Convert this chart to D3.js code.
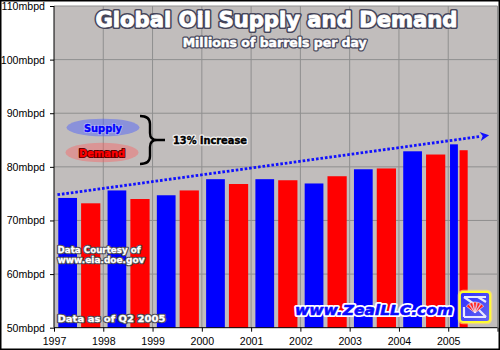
<!DOCTYPE html>
<html>
<head>
<meta charset="utf-8">
<script src="https://cdn.jsdelivr.net/npm/d3@7"></script>
<style>
  html, body { margin: 0; padding: 0; background: #fff; }
  svg { display: block; }
</style>
</head>
<body>
<svg id="chart" width="500" height="350"></svg>
<script>
// Annual averages, millions of barrels per day
const years = [1997, 1998, 1999, 2000, 2001, 2002, 2003, 2004, 2005];
const supply = [74.2, 75.6, 74.7, 77.7, 77.7, 76.9, 79.55, 82.9, 84.2];
const demand = [73.2, 74.0, 75.6, 76.8, 77.5, 78.25, 79.7, 82.3, 83.1];
// Portion of each year covered by the data (2005 runs through Q2)
const coverage = [1, 1, 1, 1, 1, 1, 1, 1, 0.42];
// Supply trend, start and end
const trendYears = [1997.07, 2005.83];
const trendValues = [74.8, 85.9];
const yTicks = [50, 60, 70, 80, 90, 100, 110];
const xTicks = [1997, 1998, 1999, 2000, 2001, 2002, 2003, 2004, 2005, 2006];
const xLabels = ["1997", "1998", "1999", "2000", "2001", "2002", "2003", "2004", "2005", ""];

const svg = d3.select("#chart");
const W = 500, H = 350;
const pLeft = 54, pRight = 497.5, pTop = 6, pBottom = 327.7;

const x = d3.scaleLinear().domain([1997, 2006]).range([pLeft, pRight]);
const y = d3.scaleLinear().domain([50, 110]).range([pBottom, pTop]);

// Plot background
svg.append("rect").attr("x", pLeft).attr("y", pTop)
  .attr("width", pRight - pLeft).attr("height", pBottom - pTop)
  .attr("fill", "#c1bdbc");

// Grid
const grid = svg.append("g").attr("stroke", "#8f8f8f").attr("stroke-width", 1);
grid.selectAll("line.h").data(yTicks.slice(1)).join("line")
  .attr("x1", pLeft).attr("x2", pRight)
  .attr("y1", d => y(d)).attr("y2", d => y(d));
grid.selectAll("line.v").data(xTicks.slice(1)).join("line")
  .attr("y1", pTop).attr("y2", pBottom)
  .attr("x1", d => x(d)).attr("x2", d => x(d));

// Bars: supply in the first half of each period, demand in the second
const rows = years.map((yr, i) => ({ yr, s: supply[i], d: demand[i], c: coverage[i] }));
const bars = svg.append("g");
bars.selectAll("rect.s").data(rows).join("rect")
  .attr("x", r => x(r.yr + 0.087 * r.c))
  .attr("width", r => x(r.yr + 0.467 * r.c) - x(r.yr + 0.087 * r.c))
  .attr("y", r => y(r.s)).attr("height", r => y(50) - y(r.s))
  .attr("fill", "#0000ff");
bars.selectAll("rect.d").data(rows).join("rect")
  .attr("x", r => x(r.yr + 0.55 * r.c))
  .attr("width", r => x(r.yr + 0.94 * r.c) - x(r.yr + 0.55 * r.c))
  .attr("y", r => y(r.d)).attr("height", r => y(50) - y(r.d))
  .attr("fill", "#ff0000");

// Axes
const yAxis = d3.axisLeft(y).tickValues(yTicks).tickSize(4).tickFormat(d => d + "mbpd");
const gy = svg.append("g").attr("transform", `translate(${pLeft},0)`).call(yAxis);
const xAxis = d3.axisBottom(x).tickValues(xTicks).tickSize(4).tickFormat((d, i) => xLabels[i]);
const gx = svg.append("g").attr("transform", `translate(0,${pBottom})`).call(xAxis);
[gy, gx].forEach(g => {
  g.select(".domain").remove();
  g.selectAll(".tick line").attr("stroke", "#000");
  g.selectAll("text").attr("fill", "#000")
    .style("font-family", "'Liberation Sans', Arial, sans-serif").style("font-size", "10.6px");
});
gy.selectAll(".tick text").attr("x", -9);
gx.selectAll(".tick text").attr("y", 10);
svg.append("line").attr("x1", pLeft).attr("x2", pLeft).attr("y1", pTop).attr("y2", pBottom)
  .attr("stroke", "#000");
svg.append("line").attr("x1", pLeft).attr("x2", pRight).attr("y1", pBottom).attr("y2", pBottom)
  .attr("stroke", "#000");

// Supply trend arrow
const tx0 = x(trendYears[0]), ty0 = y(trendValues[0]);
const tx1 = x(trendYears[1]), ty1 = y(trendValues[1]);
const ang = Math.atan2(ty1 - ty0, tx1 - tx0);
const headLen = 9, headW = 4.5;
const bx = tx1 - headLen * Math.cos(ang), by = ty1 - headLen * Math.sin(ang);
svg.append("line")
  .attr("x1", tx0).attr("y1", ty0).attr("x2", bx).attr("y2", by)
  .attr("stroke", "#1010ff").attr("stroke-width", 2.8)
  .attr("stroke-dasharray", "2.6 1.9");
svg.append("path")
  .attr("d", `M${tx1},${ty1}L${bx - headW * Math.sin(ang)},${by + headW * Math.cos(ang)}L${bx + 2.5 * Math.cos(ang)},${by + 2.5 * Math.sin(ang)}L${bx + headW * Math.sin(ang)},${by - headW * Math.cos(ang)}Z`)
  .attr("fill", "#1010ff");

// Outlined text helper: halo layer, then a fill layer thickened by its own stroke
const boldFont = "'DejaVu Sans', Verdana, sans-serif";
function label(tx, ty, str, size, fill, stroke, sw, anchor, len, weight) {
  const g = svg.append("g");
  const layers = [
    { f: "none", s: stroke, w: sw + (weight || 0.5) },
    { f: fill, s: fill, w: weight || 0.5 }
  ];
  layers.forEach(L => {
    const t = g.append("text")
      .attr("x", tx).attr("y", ty).text(str)
      .attr("text-anchor", anchor || "start")
      .style("font-family", boldFont).style("font-weight", "bold")
      .style("font-size", size + "px")
      .attr("fill", L.f).attr("stroke", L.s).attr("stroke-width", L.w)
      .attr("stroke-linejoin", "round");
    if (len) t.attr("textLength", len).attr("lengthAdjust", "spacingAndGlyphs");
  });
  return g;
}

// Title
label(276.5, 26.5, "Global Oil Supply and Demand", 21, "#ffffff", "#45455a", 3.2, "middle", 362, 0.9);
label(274.7, 47, "Millions of barrels per day", 12.4, "#ffffff", "#45455a", 2.6, "middle", 184, 0.5);

// Legend
svg.append("ellipse").attr("cx", 103).attr("cy", 127.5).attr("rx", 36.5).attr("ry", 8.8)
  .attr("fill", "rgba(70,90,255,0.45)");
svg.append("ellipse").attr("cx", 102).attr("cy", 152.5).attr("rx", 36.5).attr("ry", 9.8)
  .attr("fill", "rgba(255,90,90,0.4)");
label(103, 131.5, "Supply", 10, "#0000ff", "#b8bcf0", 1.6, "middle", 38, 0.4);
label(102, 156.5, "Demand", 10, "#ff0000", "#3a0000", 1.8, "middle", 46, 0.4);

// Brace
svg.append("path")
  .attr("d", "M140,116 Q150,116 150,124 L150,133 Q150,140 157,140 L165,140 M157,140 Q150,140 150,147 L150,156 Q150,164 140,164")
  .attr("fill", "none").attr("stroke", "#000").attr("stroke-width", 2.4);
label(173, 144.3, "13% increase", 9.6, "#000000", "#f4f4f4", 2.4, "start", 74, 0.4);

// Source notes
label(57.5, 253, "Data Courtesy of", 8.8, "#ffffff", "#4a4a52", 2.4, "start", 83, 0.3);
label(57.5, 263, "www.eia.doe.gov", 8.8, "#ffffff", "#4a4a52", 2.4, "start", 87, 0.3);
label(57.5, 322, "Data as of Q2 2005", 8.8, "#ffffff", "#4a4a52", 2.4, "start", 108, 0.3);

// Site link
label(295, 314.5, "www.ZealLLC.com", 14.5, "#0a0aff", "#ffffff", 3.4, "start", 158, 0.6)
  .selectAll("text").style("font-style", "italic");

// Logo badge
const defs = svg.append("defs");
const grad = defs.append("linearGradient").attr("id", "badge")
  .attr("x1", 0).attr("y1", 0).attr("x2", 1).attr("y2", 1);
grad.append("stop").attr("offset", 0).attr("stop-color", "#2b2bff");
grad.append("stop").attr("offset", 1).attr("stop-color", "#6a6af0");
const logo = svg.append("g").attr("transform", "translate(460,292)");
logo.append("rect").attr("x", -1).attr("y", -1).attr("width", 32).attr("height", 32).attr("rx", 4)
  .attr("fill", "none").attr("stroke", "#ffe070").attr("stroke-width", 2.5).attr("opacity", 0.7);
logo.append("rect").attr("x", 0).attr("y", 0).attr("width", 30).attr("height", 30).attr("rx", 3)
  .attr("fill", "url(#badge)").attr("stroke", "#ffff30").attr("stroke-width", 1.8);
logo.append("path").attr("d", "M4,5 L26,5 M4,5 L14,12 M18,5 L26,10 M4,25 L26,25 M4,25 L4,15 M26,25 L19,18")
  .attr("stroke", "#e8e8ff").attr("stroke-width", 2.2).attr("fill", "none");
const fan = logo.append("g").attr("transform", "translate(15,21)");
d3.range(-2, 3).forEach(k => {
  const a = k * 0.38 - Math.PI / 2;
  fan.append("path")
    .attr("d", `M0,0 L${11 * Math.cos(a - 0.15)},${11 * Math.sin(a - 0.15)} L${11 * Math.cos(a + 0.15)},${11 * Math.sin(a + 0.15)}Z`)
    .attr("fill", "#ff2020").attr("stroke", "#fff").attr("stroke-width", 0.6);
});

// Outer frame
svg.append("rect").attr("x", 0.75).attr("y", 0.75).attr("width", W - 1.5).attr("height", H - 1.5)
  .attr("fill", "none").attr("stroke", "#000").attr("stroke-width", 1.5);
</script>
</body>
</html>
